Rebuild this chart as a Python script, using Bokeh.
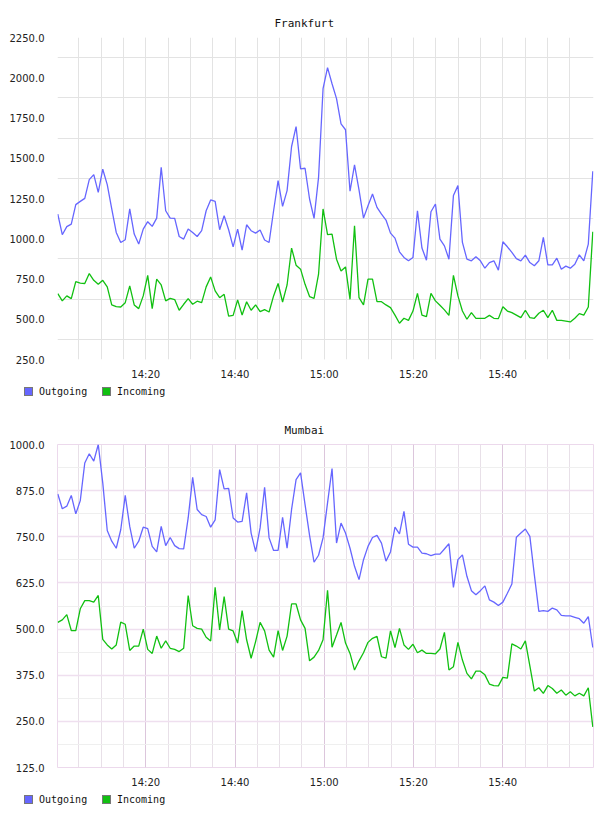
from datetime import datetime, timedelta

from bokeh.embed import file_html
from bokeh.layouts import column
from bokeh.models import (ColumnDataSource, DatetimeTickFormatter, Div,
                          FixedTicker, NumeralTickFormatter, Range1d)
from bokeh.plotting import figure
from bokeh.resources import INLINE

# ---- data -------------------------------------------------------------
series_names = ["Outgoing", "Incoming"]
series_colors = ["#6666ff", "#11c011"]

frankfurt_outgoing = [
    1153, 1025, 1075, 1091, 1212, 1232, 1251, 1367, 1398, 1288,
    1432, 1336, 1185, 1039, 977, 994, 1185, 1029, 967, 1060,
    1106, 1077, 1128, 1444, 1174, 1128, 1126, 1014, 998, 1060,
    1039, 1014, 1050, 1174, 1241, 1232, 1056, 1143, 1056, 950,
    1060, 929, 1087, 1050, 1035, 1054, 992, 977, 1174, 1361,
    1201, 1299, 1573, 1697, 1434, 1438, 1247, 1126, 1381, 1932,
    2063, 1963, 1870, 1714, 1677, 1295, 1459, 1303, 1128, 1205,
    1278, 1195, 1153, 1116, 1035, 1004, 919, 884, 863, 884,
    1174, 942, 867, 1168, 1216, 998, 956, 873, 1268, 1330,
    977, 873, 863, 888, 863, 817, 852, 863, 805, 981,
    950, 915, 877, 863, 898, 852, 832, 863, 1008, 838,
    838, 879, 811, 830, 817, 842, 900, 863, 967, 1419,
]
frankfurt_incoming = [
    659, 614, 645, 628, 734, 724, 722, 784, 742, 717,
    742, 701, 589, 578, 576, 603, 707, 589, 566, 645,
    773, 566, 749, 713, 614, 630, 622, 556, 593, 628,
    593, 612, 603, 701, 763, 676, 634, 655, 520, 524,
    620, 526, 609, 556, 589, 547, 560, 545, 645, 722,
    607, 713, 942, 836, 811, 717, 641, 630, 780, 1185,
    1025, 1029, 873, 800, 825, 624, 1081, 634, 589, 749,
    749, 609, 609, 589, 572, 526, 475, 506, 493, 551,
    661, 526, 516, 661, 614, 587, 558, 524, 773, 645,
    551, 500, 541, 506, 506, 506, 524, 506, 504, 578,
    551, 541, 526, 510, 556, 510, 506, 537, 556, 510,
    556, 493, 493, 489, 483, 506, 535, 526, 576, 1043,
]
mumbai_outgoing = [
    866, 826, 833, 862, 812, 848, 950, 975, 955, 1000,
    896, 767, 738, 719, 769, 862, 778, 719, 738, 776,
    772, 724, 709, 778, 726, 748, 726, 718, 717, 801,
    911, 824, 810, 805, 776, 796, 932, 880, 881, 801,
    790, 792, 869, 760, 710, 774, 884, 747, 713, 713,
    803, 719, 824, 905, 923, 837, 754, 681, 700, 747,
    842, 935, 733, 787, 760, 719, 670, 634, 688, 724,
    748, 754, 733, 684, 709, 776, 758, 819, 730, 722,
    722, 706, 704, 699, 703, 703, 717, 731, 613, 688,
    701, 643, 604, 593, 604, 617, 579, 573, 564, 573,
    597, 622, 749, 760, 771, 751, 647, 548, 550, 548,
    557, 552, 537, 536, 536, 532, 528, 516, 534, 450,
]
mumbai_incoming = [
    518, 525, 539, 496, 496, 555, 577, 577, 573, 591,
    472, 457, 446, 457, 519, 513, 442, 454, 454, 500,
    445, 434, 481, 448, 468, 448, 445, 439, 448, 591,
    509, 502, 500, 478, 468, 613, 498, 588, 500, 495,
    462, 550, 471, 421, 466, 518, 495, 443, 424, 496,
    442, 481, 568, 568, 525, 502, 414, 424, 442, 471,
    605, 451, 484, 518, 462, 434, 389, 414, 436, 464,
    475, 480, 425, 421, 495, 450, 502, 457, 445, 459,
    436, 443, 434, 434, 433, 446, 491, 389, 398, 464,
    416, 380, 365, 386, 386, 376, 351, 347, 346, 369,
    367, 460, 454, 446, 468, 400, 332, 341, 326, 347,
    339, 326, 335, 321, 330, 319, 326, 319, 341, 235,
]

# sample timestamps (one reading roughly every minute)
first_sample = datetime(2014, 3, 12, 14, 0, 17)
sample_step = timedelta(seconds=60.45)
times = [first_sample + i * sample_step for i in range(len(frankfurt_outgoing))]

x_start = datetime(2014, 3, 12, 14, 0, 13)
x_end = datetime(2014, 3, 12, 16, 0, 20)
label_times = [datetime(2014, 3, 12, 14, 20) + timedelta(minutes=20 * k) for k in range(5)]
grid_times = [datetime(2014, 3, 12, 14, 5) + timedelta(minutes=5 * k) for k in range(23)]

frankfurt_ticks = [250, 500, 750, 1000, 1250, 1500, 1750, 2000, 2250]
frankfurt_gridlines = [375, 625, 875, 1125, 1375, 1625, 1875, 2125]
mumbai_ticks = [125, 250, 375, 500, 625, 750, 875, 1000]
mumbai_gridlines = [187.5, 312.5, 437.5, 562.5, 687.5, 812.5, 937.5]

EPOCH = datetime(1970, 1, 1)


def ms(d):
    return (d - EPOCH).total_seconds() * 1000.0


def make_chart(title, outgoing, incoming, y_lo, y_hi, y_ticks, y_grid,
               top, height, title_offset, style):
    p = figure(width=608, height=height, x_axis_type="datetime",
               x_range=Range1d(x_start, x_end), y_range=Range1d(y_lo, y_hi),
               output_backend="svg", toolbar_location=None,
               min_border_left=57, min_border_right=15,
               min_border_top=top, min_border_bottom=24,
               background_fill_color="white", border_fill_color="white")

    p.title.text = title
    p.title.text_font = "DejaVu Sans Mono"
    p.title.text_font_size = "11px"
    p.title.text_font_style = "normal"
    p.title.text_color = "#111111"
    p.title.align = "left"
    p.title.offset = title_offset
    p.title.standoff = 15

    p.outline_line_color = style["outline"]

    # x axis: labels every 20 minutes, grid every 5 minutes
    p.xaxis.ticker = FixedTicker(ticks=[ms(t) for t in label_times],
                                 minor_ticks=[ms(t) for t in grid_times])
    fmt = "%H:%M"
    p.xaxis.formatter = DatetimeTickFormatter(
        milliseconds=fmt, seconds=fmt, minsec=fmt, minutes=fmt,
        hourmin=fmt, hours=fmt)
    # y axis
    p.yaxis.ticker = FixedTicker(ticks=y_ticks, minor_ticks=y_grid)
    p.yaxis.formatter = NumeralTickFormatter(format="0.0")

    for ax in (p.xaxis[0], p.yaxis[0]):
        ax.axis_line_color = None
        ax.major_tick_line_color = None
        ax.minor_tick_line_color = None
        ax.major_label_text_font = "DejaVu Sans"
        ax.major_label_text_font_size = "10px"
        ax.major_label_text_color = "#222222"
    p.yaxis.major_label_standoff = 7
    p.xaxis.major_label_standoff = 3

    p.xgrid.grid_line_color = style["x_major"]
    p.xgrid.minor_grid_line_color = style["x_minor"]
    p.ygrid.grid_line_color = style["y_major"]
    p.ygrid.minor_grid_line_color = style["y_minor"]
    p.ygrid.grid_line_width = style["y_major_width"]

    src = ColumnDataSource(dict(t=times, out=outgoing, inc=incoming))
    p.line("t", "out", source=src, line_color=series_colors[0], line_width=1.3)
    p.line("t", "inc", source=src, line_color=series_colors[1], line_width=1.3)
    return p


def legend_strip():
    # series key under each chart: square swatch followed by its name
    lefts = [24, 102]
    parts = []
    for name, color, left in zip(series_names, series_colors, lefts):
        parts.append(
            f'<span style="position:absolute;left:{left}px;top:4px;'
            f'width:9px;height:9px;background:{color};'
            f'border:1px solid #777777;"></span>'
            f'<span style="position:absolute;left:{left + 15}px;top:3px;'
            f'line-height:12px;white-space:nowrap;">{name}</span>')
    html = ('<div style="position:relative;width:608px;height:25px;'
            'font-family:\'DejaVu Sans Mono\';font-size:10px;color:#111111;'
            'background:white;">' + "".join(parts) + '</div>')
    return Div(text=html, width=608, height=25,
               styles={"margin": "0", "padding": "0"})


frankfurt_style = dict(outline=None, x_major="#e3e3e3", x_minor="#e3e3e3",
                       y_major=None, y_minor="#e3e3e3", y_major_width=1)
mumbai_style = dict(outline="#ecd9ec", x_major="#dcc6dc", x_minor="#e8e0e8",
                    y_major="#efdfef", y_minor="#efefef", y_major_width=1.5)

p1 = make_chart("Frankfurt", frankfurt_outgoing, frankfurt_incoming,
                250, 2250, frankfurt_ticks, frankfurt_gridlines, 37, 383, 217,
                frankfurt_style)
p2 = make_chart("Mumbai", mumbai_outgoing, mumbai_incoming,
                125, 1000, mumbai_ticks, mumbai_gridlines, 36, 383, 227,
                mumbai_style)

layout = column(p1, legend_strip(), p2, legend_strip(), spacing=0)
open("out.html", "w").write(file_html(layout, INLINE))
